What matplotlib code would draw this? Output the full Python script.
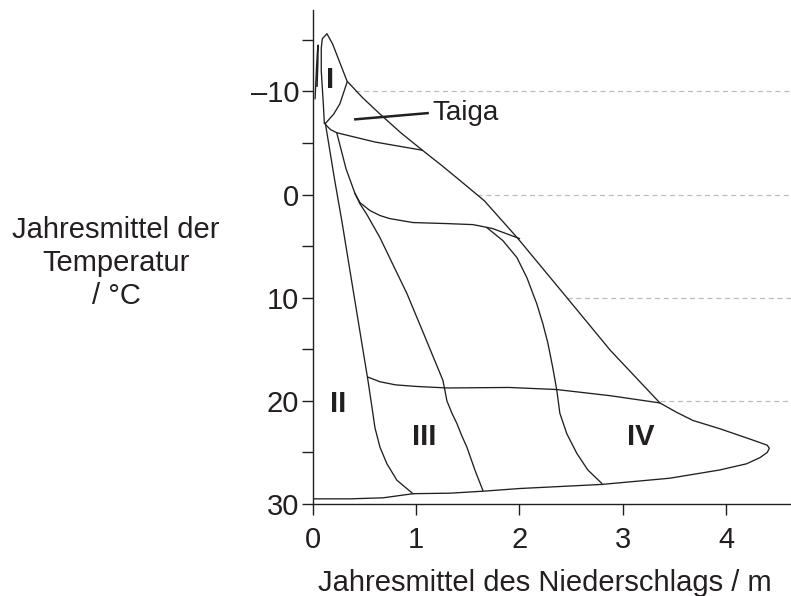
import numpy as np
import matplotlib
matplotlib.use("Agg")
from matplotlib import pyplot as plt

plt.rcParams['font.family'] = ['Liberation Sans', 'DejaVu Sans']

# outer envelope (precipitation m, temperature degC)
outer_x = [0.11, 0.10, 0.08, 0.08, 0.09, 0.135, 0.19, 0.26, 0.33, 0.48, 0.65, 0.85, 1.06,
           1.25, 1.42, 1.66, 1.98, 2.22, 2.46, 2.88, 3.36, 3.52, 3.68, 3.94, 4.26, 4.40,
           4.42, 4.40, 4.33, 4.20, 3.94, 3.456, 2.8, 2.0, 1.66, 1.33, 0.97, 0.68, 0.36, 0.0]
outer_y = [-6.9, -8.8, -12.0, -14.2, -15.1, -15.6, -14.6, -12.8, -11.0, -9.4, -7.8, -6.0, -4.3,
           -2.8, -1.4, 0.6, 4.2, 7.1, 10.0, 15.1, 20.2, 21.1, 21.9, 22.7, 23.8, 24.3,
           24.6, 25.0, 25.5, 26.1, 26.7, 27.5, 28.1, 28.5, 28.75, 28.95, 29.0, 29.4, 29.5, 29.5]

# thin spike next to the axis
spike_x = [0.02, 0.035, 0.045, 0.05, 0.048, 0.04]
spike_y = [-9.3, -12.5, -14.2, -14.5, -13.0, -10.5]

# boundary I / Taiga
taiga_top_x = [0.33, 0.30, 0.26, 0.20, 0.12]
taiga_top_y = [-10.9, -10.0, -8.8, -7.8, -6.9]

# boundary Taiga / below
taiga_bot_x = [0.12, 0.17, 0.23, 0.6, 1.06]
taiga_bot_y = [-6.8, -6.3, -6.0, -5.1, -4.3]

# boundary II / III
line1_x = [0.12, 0.21, 0.28, 0.36, 0.45, 0.532, 0.571, 0.60, 0.649, 0.716, 0.813, 0.968]
line1_y = [-6.9, -1.4, 2.6, 7.5, 13.0, 18.0, 20.6, 22.6, 24.5, 26.1, 27.7, 29.0]

# right boundary of III
line2_x = [0.23, 0.32, 0.407, 0.455, 0.52, 0.65, 0.77, 0.91, 1.06, 1.258, 1.278, 1.297,
           1.346, 1.394, 1.442, 1.491, 1.568, 1.646]
line2_y = [-6.0, -2.5, -0.1, 0.9, 1.9, 4.2, 6.7, 9.6, 13.2, 18.0, 19.0, 20.0,
           21.2, 22.2, 23.4, 24.5, 26.7, 28.7]

# roughly 3 degC line
line3c_x = [0.407, 0.455, 0.552, 0.649, 0.745, 0.968, 1.297, 1.549, 1.646, 1.742, 2.0]
line3c_y = [-0.1, 0.78, 1.55, 2.03, 2.33, 2.71, 2.81, 2.91, 3.1, 3.3, 4.26]

# left boundary of IV
line4_x = [1.684, 1.839, 1.975, 2.072, 2.168, 2.226, 2.275, 2.323, 2.362, 2.391, 2.459,
           2.556, 2.662, 2.797]
line4_y = [3.2, 4.46, 6.1, 8.06, 10.6, 12.5, 14.4, 16.8, 19.0, 21.2, 23.2,
           25.1, 26.7, 28.0]

# roughly 18 degC line
line18_x = [0.532, 0.65, 0.8, 1.0, 1.3, 1.9, 2.36, 2.88, 3.36]
line18_y = [17.7, 18.15, 18.45, 18.6, 18.75, 18.7, 18.9, 19.5, 20.2]

# dashed reference levels, starting at the envelope
grid_levels = [-10, 0, 10, 20]
grid_start = [0.41, 1.59, 2.46, 3.36]

taiga_ptr_x = [0.41, 1.11]
taiga_ptr_y = [-7.3, -7.9]

region_names = ['I', 'II', 'III', 'IV']
region_x = [0.17, 0.24, 1.08, 3.17]
region_y = [-11.1, 20.3, 23.5, 23.5]

yticks = [-10, 0, 10, 20, 30]
ytick_labels = ['\u201310', '0', '10', '20', '30']
yminor = [-15, -5, 5, 15, 25]
xticks = [0, 1, 2, 3, 4]

fig = plt.figure(figsize=(7.91, 5.96), dpi=100)
ax = fig.add_axes([313/791, 92/596, 478/791, 494/596])

for lev, x0 in zip(grid_levels, grid_start):
    ax.plot([x0, 4.7], [lev, lev], color='#bdbdbd', lw=0.9, dashes=(4, 3), zorder=1)

lines = [(outer_x, outer_y), (spike_x, spike_y), (taiga_top_x, taiga_top_y),
         (taiga_bot_x, taiga_bot_y), (line1_x, line1_y), (line2_x, line2_y),
         (line3c_x, line3c_y), (line4_x, line4_y), (line18_x, line18_y)]
for xs, ys in lines:
    ax.plot(xs, ys, color='#231f20', lw=0.95, solid_joinstyle='round', zorder=2)

ax.plot(taiga_ptr_x, taiga_ptr_y, color='#231f20', lw=1.8, zorder=3)
ax.text(1.16, -7.9, 'Taiga', fontsize=20, color='#231f20', ha='left', va='center')

for name, x, y in zip(region_names, region_x, region_y):
    ax.text(x, y, name, fontsize=21, fontweight='bold', color='#231f20',
            ha='center', va='center')

ax.set_xlim(0, 4.63)
ax.set_ylim(30, -17.9)
ax.spines['top'].set_visible(False)
ax.spines['right'].set_visible(False)
for s in ['left', 'bottom']:
    ax.spines[s].set_linewidth(1.0)
    ax.spines[s].set_color('#231f20')

ax.set_yticks(yticks)
ax.set_yticklabels(ytick_labels)
ax.set_yticks(yminor, minor=True)
ax.set_xticks(xticks)
ax.tick_params(axis='both', which='both', direction='out', length=8, width=1.0,
               color='#231f20', labelcolor='#231f20', labelsize=21)
ax.tick_params(axis='y', pad=2)
ax.tick_params(axis='x', pad=8)

fig.text(116/791, 1 - 263/596, 'Jahresmittel der\nTemperatur\n/ \u00b0C', fontsize=21,
         color='#231f20', ha='center', va='center', multialignment='center', linespacing=1.25)
fig.text(545/791, 1 - 583/596, 'Jahresmittel des Niederschlags / m', fontsize=21,
         color='#231f20', ha='center', va='center')

fig.savefig('out.png', dpi=100)
